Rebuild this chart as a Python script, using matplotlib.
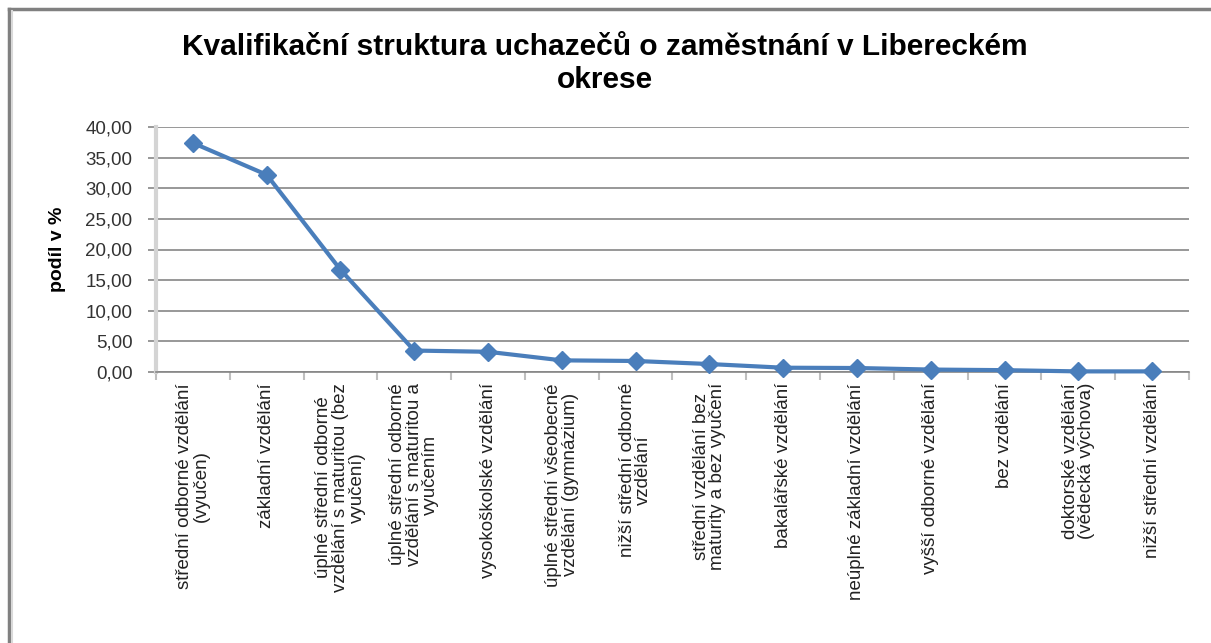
import matplotlib
matplotlib.use("Agg")
import matplotlib.pyplot as plt
from matplotlib.lines import Line2D

plt.rcParams['font.family'] = ['Liberation Sans', 'DejaVu Sans']

categories = [
    "střední odborné vzdělání\n(vyučen)",
    "základní vzdělání",
    "úplné střední odborné\nvzdělání s maturitou (bez\nvyučení)",
    "úplné střední odborné\nvzdělání s maturitou a\nvyučením",
    "vysokoškolské vzdělání",
    "úplné střední všeobecné\nvzdělání (gymnázium)",
    "nižší střední odborné\nvzdělání",
    "střední vzdělání bez\nmaturity a bez vyučení",
    "bakalářské vzdělání",
    "neúplné základní vzdělání",
    "vyšší odborné vzdělání",
    "bez vzdělání",
    "doktorské vzdělání\n(vědecká výchova)",
    "nižší střední vzdělání",
]
values = [37.4, 32.2, 16.7, 3.5, 3.3, 1.9, 1.8, 1.3, 0.7, 0.65, 0.4, 0.3, 0.1, 0.1]
yticks = [0, 5, 10, 15, 20, 25, 30, 35, 40]
ytick_labels = ["0,00", "5,00", "10,00", "15,00", "20,00", "25,00", "30,00", "35,00", "40,00"]
title = "Kvalifikační struktura uchazečů o zaměstnání v Libereckém\nokrese"
ylabel = "podíl v %"

W, H = 1211, 643
fig = plt.figure(figsize=(W / 100, H / 100), dpi=100)
ax = fig.add_axes([156 / W, 1 - 372 / H, (1189 - 156) / W, (372 - 127) / H])

x = list(range(len(categories)))
ax.plot(x, values, color='#4A7EBB', linewidth=3, marker='D', markersize=9,
        markerfacecolor='#4A7EBB', markeredgecolor='#4A7EBB', zorder=3, clip_on=False)

ax.set_xlim(-0.5, len(categories) - 0.5)
ax.set_ylim(0, 40)
ax.set_yticks(yticks)
ax.set_yticklabels(ytick_labels, fontsize=13.5, color='#333333')
ax.yaxis.grid(True, color='#868686', linewidth=1.2)
ax.set_axisbelow(True)

# category ticks between categories, labels at centers
ax.set_xticks([i - 0.5 for i in range(len(categories) + 1)])
ax.set_xticklabels([])
ax.set_xticks(x, minor=True)
ax.set_xticklabels(categories, minor=True, rotation=90, fontsize=13.5,
                   va='top', ha='center', multialignment='center',
                   linespacing=0.97, color='#222222')
ax.tick_params(axis='x', which='minor', length=0, pad=8)
ax.tick_params(axis='x', which='major', length=6, color='#bfbfbf', width=1.5)
ax.tick_params(axis='y', which='major', length=6, color='#868686', width=1.2, pad=11)

for s in ['top', 'right']:
    ax.spines[s].set_visible(False)
ax.spines['left'].set_color('#d4d4d4')
ax.spines['left'].set_linewidth(3)
ax.spines['bottom'].set_color('#868686')
ax.spines['bottom'].set_linewidth(1.2)

ax.set_ylabel(ylabel, fontsize=14, fontweight='bold', labelpad=14)

fig.text(605 / W, 1 - 33 / H, title, ha='center', va='top', fontsize=21.5,
         fontweight='bold', linespacing=1.25)

# chart area border (top and left visible)
fig.add_artist(Line2D([9 / W, 9 / W], [0, 1 - 9 / H], transform=fig.transFigure,
                      color='#808080', linewidth=2.5))
fig.add_artist(Line2D([9 / W, 1], [1 - 9 / H, 1 - 9 / H], transform=fig.transFigure,
                      color='#808080', linewidth=2.5))
fig.add_artist(Line2D([12 / W, 12 / W], [0, 1 - 11 / H], transform=fig.transFigure,
                      color='#d9d9d9', linewidth=1.5))

fig.savefig("out.png", dpi=100)
